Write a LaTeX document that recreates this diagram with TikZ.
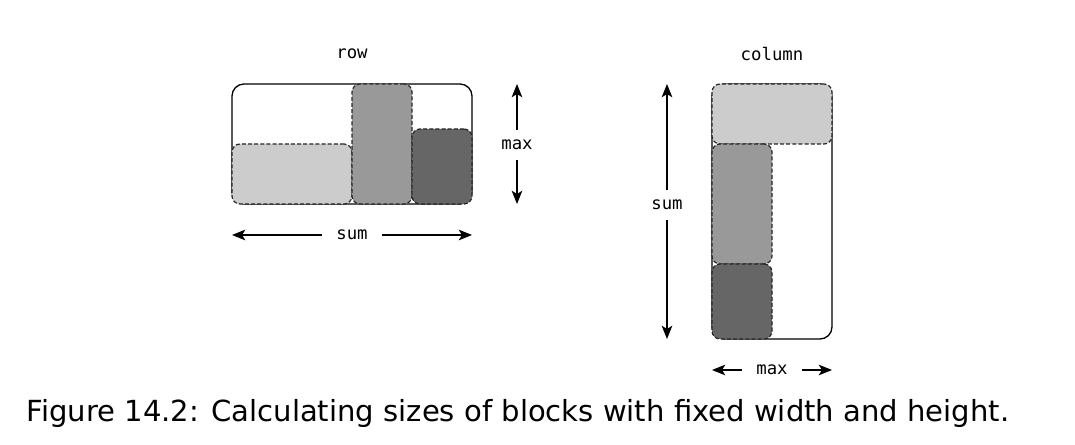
\documentclass[tikz,border=0pt]{standalone}
\usepackage{fontspec}
\setmainfont{DejaVu Sans}
\newfontfamily\monof{DejaVu Sans Mono}
\usetikzlibrary{arrows.meta}
\definecolor{blight}{HTML}{CCCCCC}
\definecolor{bmid}{HTML}{999999}
\definecolor{bdark}{HTML}{666666}
\tikzset{
  container/.style={draw=black, line width=1pt, rounded corners=9pt, inner sep=0pt, outer sep=0pt},
  blockbox/.style={draw=black!85, line width=0.9pt, dash pattern=on 3pt off 1.6pt, rounded corners=6pt, inner sep=0pt, outer sep=0pt},
  lbl/.style={font=\monof\fontsize{13}{15}\selectfont, inner xsep=10.5pt, inner ysep=7pt},
  dim/.style={line width=1pt, -{Stealth[length=10pt,width=8pt,inset=2.5pt]}},
}
\begin{document}
\begin{tikzpicture}[x=0.75pt,y=-0.75pt]
\useasboundingbox (0,0) rectangle (1075,445);
% row
\node[lbl] (rowt) at (352,54) {row};
\node[container, minimum width=180pt, minimum height=90pt] (rowc) at (352,144) {};
\node[blockbox, fill=blight, minimum width=90pt, minimum height=45pt] (r1) at (292,174) {};
\node[blockbox, fill=bmid, minimum width=45pt, minimum height=90pt] (r2) at (382,144) {};
\node[blockbox, fill=bdark, minimum width=45pt, minimum height=56.25pt] (r3) at (442,166.5) {};
\node[lbl] (rmax) at (517,145) {max};
\draw[dim] (rmax.north) -- (rmax.north |- rowc.north);
\draw[dim] (rmax.south) -- (rmax.south |- rowc.south);
\node[lbl] (rsum) at (352,235) {sum};
\draw[dim] (rsum.west) -- (rsum.west -| rowc.west);
\draw[dim] (rsum.east) -- (rsum.east -| rowc.east);
% column
\node[lbl] (colt) at (772,54) {column};
\node[container, minimum width=90pt, minimum height=191.25pt] (colc) at (772,211.5) {};
\node[blockbox, fill=blight, minimum width=90pt, minimum height=45pt] (c1) at (772,114) {};
\node[blockbox, fill=bmid, minimum width=45pt, minimum height=90pt] (c2) at (742,204) {};
\node[blockbox, fill=bdark, minimum width=45pt, minimum height=56.25pt] (c3) at (742,301.5) {};
\node[lbl] (csum) at (667,205) {sum};
\draw[dim] (csum.north) -- (csum.north |- colc.north);
\draw[dim] (csum.south) -- (csum.south |- colc.south);
\node[lbl] (cmax) at (772,370) {max};
\draw[dim] (cmax.west) -- (cmax.west -| colc.west);
\draw[dim] (cmax.east) -- (cmax.east -| colc.east);
% caption
\node[font=\fontsize{21.8}{26}\selectfont, inner sep=0pt] (cap) at (518,413) {Figure 14.2: Calculating sizes of blocks with fixed width and height.};
\end{tikzpicture}
\end{document}
